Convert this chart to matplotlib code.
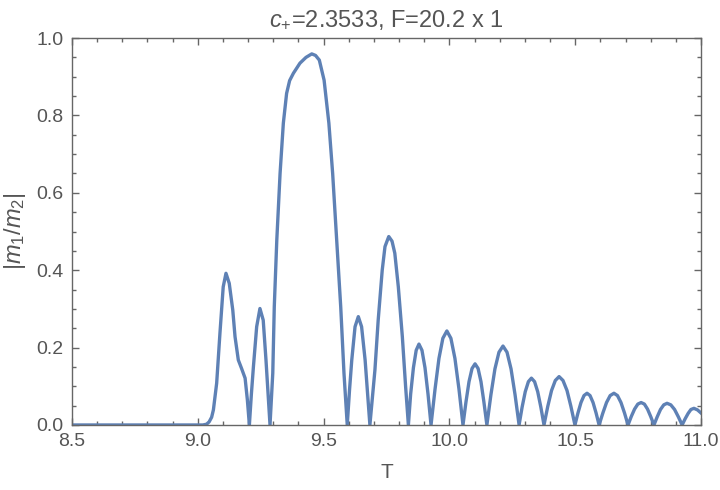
import matplotlib
matplotlib.use("Agg")
import matplotlib.pyplot as plt
from matplotlib.ticker import MultipleLocator

# ---- data ----
T = [8.500, 9.020, 9.035, 9.045, 9.055, 9.062, 9.075, 9.088, 9.101, 9.112,
     9.125, 9.139, 9.148, 9.161, 9.174, 9.188, 9.197, 9.205,
     9.213, 9.221, 9.234, 9.247, 9.260, 9.271, 9.279, 9.287,
     9.298, 9.304, 9.314, 9.327, 9.340, 9.353, 9.365, 9.380, 9.406, 9.430, 9.453,
     9.468, 9.483, 9.502, 9.521, 9.536, 9.552, 9.568, 9.581, 9.594,
     9.603, 9.612, 9.625, 9.638, 9.651, 9.665, 9.674, 9.684,
     9.704, 9.717, 9.733, 9.744, 9.759, 9.772, 9.783, 9.797, 9.813, 9.826, 9.837,
     9.846, 9.857, 9.868, 9.879, 9.891, 9.903, 9.915, 9.927,
     9.943, 9.9585, 9.974, 9.990, 10.006, 10.022, 10.038, 10.054,
     10.066, 10.078, 10.090, 10.102, 10.114, 10.1255, 10.137, 10.149,
     10.165, 10.181, 10.197, 10.213, 10.229, 10.245, 10.261, 10.277,
     10.289, 10.3015, 10.314, 10.326, 10.3385, 10.351, 10.3635, 10.376,
     10.391, 10.406, 10.421, 10.436, 10.4515, 10.4675, 10.483, 10.499,
     10.511, 10.523, 10.535, 10.547, 10.559, 10.571, 10.583, 10.595,
     10.610, 10.6245, 10.639, 10.654, 10.668, 10.682, 10.696, 10.710,
     10.723, 10.736, 10.749, 10.762, 10.775, 10.7875, 10.800, 10.813,
     10.826, 10.839, 10.852, 10.865, 10.880, 10.895, 10.910, 10.925,
     10.937, 10.949, 10.960, 10.972, 10.986, 11.000]
ratio = [0.000, 0.000, 0.002, 0.008, 0.020, 0.039, 0.108, 0.237, 0.357, 0.392,
         0.366, 0.297, 0.228, 0.168, 0.146, 0.121, 0.065, 0.000,
         0.080, 0.150, 0.254, 0.301, 0.271, 0.168, 0.085, 0.000,
         0.134, 0.306, 0.478, 0.650, 0.780, 0.857, 0.890, 0.909, 0.935, 0.950, 0.959,
         0.955, 0.943, 0.891, 0.780, 0.650, 0.478, 0.306, 0.134, 0.000,
         0.090, 0.168, 0.254, 0.280, 0.254, 0.168, 0.090, 0.000,
         0.142, 0.271, 0.400, 0.461, 0.487, 0.475, 0.444, 0.357, 0.228, 0.099, 0.000,
         0.080, 0.148, 0.193, 0.209, 0.193, 0.148, 0.080, 0.000,
         0.093, 0.172, 0.224, 0.243, 0.224, 0.172, 0.093, 0.000,
         0.060, 0.112, 0.146, 0.158, 0.146, 0.112, 0.060, 0.000,
         0.078, 0.145, 0.188, 0.204, 0.188, 0.145, 0.078, 0.000,
         0.046, 0.086, 0.112, 0.121, 0.112, 0.086, 0.046, 0.000,
         0.048, 0.089, 0.115, 0.125, 0.115, 0.089, 0.048, 0.000,
         0.031, 0.058, 0.076, 0.082, 0.076, 0.058, 0.031, 0.000,
         0.031, 0.058, 0.076, 0.082, 0.076, 0.058, 0.031, 0.000,
         0.022, 0.041, 0.054, 0.058, 0.054, 0.041, 0.022, 0.000,
         0.021, 0.040, 0.052, 0.056, 0.052, 0.040, 0.021, 0.000,
         0.016, 0.030, 0.040, 0.043, 0.039, 0.031]
x_ticks = [8.5, 9.0, 9.5, 10.0, 10.5, 11.0]
x_tick_labels = ["8.5", "9.0", "9.5", "10.0", "10.5", "11.0"]
y_ticks = [0.0, 0.2, 0.4, 0.6, 0.8, 1.0]
y_tick_labels = ["0.0", "0.2", "0.4", "0.6", "0.8", "1.0"]

plt.rcParams['font.family'] = ['Liberation Sans', 'DejaVu Sans']
plt.rcParams['mathtext.fontset'] = 'custom'
plt.rcParams['mathtext.rm'] = 'Liberation Sans'
plt.rcParams['mathtext.it'] = 'Liberation Sans:italic'

gray = '#666666'
text_gray = '#555555'

fig = plt.figure(figsize=(7.2, 4.9), dpi=100)
ax = fig.add_axes([0.1, 0.1327, 0.8736, 0.7897])

ax.plot(T, ratio, color='#5E81B5', lw=2.4, solid_joinstyle='round', clip_on=True)

ax.set_xlim(8.5, 11.0)
ax.set_ylim(0.0, 1.0)
ax.set_xticks(x_ticks)
ax.set_xticklabels(x_tick_labels)
ax.set_yticks(y_ticks)
ax.set_yticklabels(y_tick_labels)
ax.xaxis.set_minor_locator(MultipleLocator(0.1))
ax.yaxis.set_minor_locator(MultipleLocator(0.05))

ax.tick_params(which='both', direction='in', top=True, right=True, color=gray, width=1.0)
ax.tick_params(which='major', length=5, labelsize=14, labelcolor=text_gray)
ax.tick_params(axis='x', which='major', pad=6)
ax.tick_params(axis='y', which='major', pad=6)
ax.tick_params(which='minor', length=3)
for s in ax.spines.values():
    s.set_color(gray)
    s.set_linewidth(1.0)

ax.set_xlabel('T', fontsize=15, color=text_gray, labelpad=9)
ax.set_ylabel(r'$|m_1/m_2|$', fontsize=17, color=text_gray, labelpad=6)
ax.set_title(r'$c_{+}$=2.3533, F=20.2 x 1', fontsize=17, color=text_gray, pad=8)

fig.savefig('out.png', dpi=100)
